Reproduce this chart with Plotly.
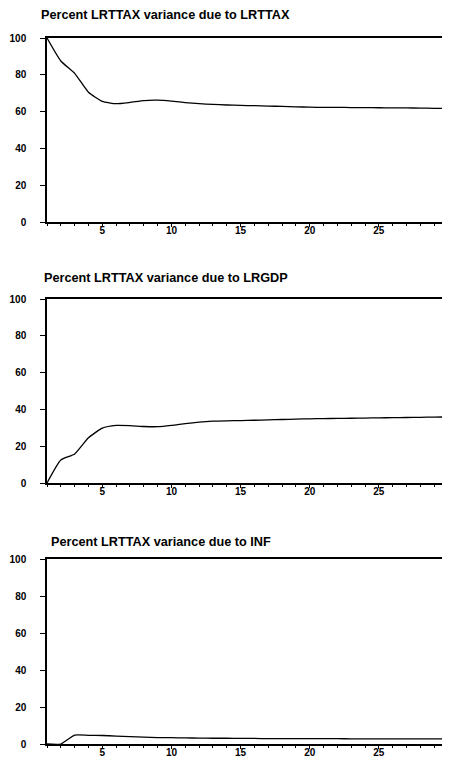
import plotly.graph_objects as go

periods = list(range(1, 31))

lrttax = [100.0, 87.5, 80.8, 70.5, 65.6, 64.3, 65.0, 66.0, 66.2, 65.7,
          64.9, 64.3, 63.9, 63.6, 63.4, 63.2, 63.0, 62.8, 62.6, 62.4,
          62.3, 62.3, 62.2, 62.2, 62.1, 62.0, 62.0, 61.9, 61.8, 61.8]
lrgdp = [0.0, 12.5, 15.8, 24.6, 29.8, 31.3, 31.2, 30.7, 30.6, 31.3,
         32.3, 33.1, 33.6, 33.8, 33.9, 34.1, 34.3, 34.5, 34.7, 34.9,
         35.0, 35.1, 35.2, 35.3, 35.4, 35.5, 35.6, 35.7, 35.8, 35.9]
inf = [0.0, 0.0, 4.8, 4.7, 4.6, 4.3, 4.0, 3.7, 3.5, 3.4,
       3.3, 3.2, 3.1, 3.1, 3.0, 3.0, 2.9, 2.9, 2.9, 2.9,
       2.9, 2.9, 2.8, 2.8, 2.8, 2.8, 2.8, 2.8, 2.8, 2.8]

titles = ["Percent LRTTAX variance due to LRTTAX",
          "Percent LRTTAX variance due to LRGDP",
          "Percent LRTTAX variance due to INF"]
series = [lrttax, lrgdp, inf]

y_ticks = [0, 20, 40, 60, 80, 100]

# page body has an 8px margin, so figure coords = screen coords - 8
OFF = 8
W, H = 450 - OFF, 759 - OFF
L = 47 - OFF
R = W - (448 - OFF)
T = 38 - OFF
B = H - (744 - OFF)
ph = H - T - B
panels_px = [(38 - OFF, 222 - OFF), (299 - OFF, 483 - OFF), (559 - OFF, 744 - OFF)]
title_px = [(39 - OFF, 15 - OFF), (42 - OFF, 278 - OFF), (49 - OFF, 542 - OFF)]

FONT = "Liberation Sans"

fig = go.Figure()
layout = dict(
    width=W, height=H,
    margin=dict(l=L, r=R, t=T, b=B, autoexpand=False),
    paper_bgcolor="white", plot_bgcolor="white",
    showlegend=False,
    font=dict(family=FONT, color="black", size=11),
)

annotations = []
for i, (vals, ttl) in enumerate(zip(series, titles)):
    n = i + 1
    xa = "x" if n == 1 else f"x{n}"
    ya = "y" if n == 1 else f"y{n}"
    fig.add_trace(go.Scatter(x=periods, y=vals, mode="lines",
                             line=dict(color="black", width=1.3,
                                       shape="spline", smoothing=0.5),
                             xaxis=xa, yaxis=ya, hoverinfo="skip"))
    top, bot = panels_px[i]
    dom = [1 - (bot - T) / ph, 1 - (top - T) / ph]
    xkey = "xaxis" if n == 1 else f"xaxis{n}"
    ykey = "yaxis" if n == 1 else f"yaxis{n}"
    layout[xkey] = dict(
        domain=[0, 1], anchor=ya, range=[1, 30], automargin=False,
        tick0=0, dtick=5, ticks="outside", ticklen=3, tickwidth=1,
        tickcolor="black",
        minor=dict(dtick=1, tick0=0, ticks="outside", ticklen=2,
                   tickcolor="black", tickwidth=1),
        showgrid=False, zeroline=False,
        showline=True, linecolor="black", linewidth=1.5, mirror=True,
        tickfont=dict(family=FONT, size=10, color="black", weight="bold"),
        ticklabelstandoff=-5,
        ticklabeloverflow="allow",
    )
    layout[ykey] = dict(
        domain=dom, anchor=xa, range=[0, 100], automargin=False,
        tickvals=y_ticks, ticktext=[str(v) for v in y_ticks],
        ticks="outside", ticklen=5, tickwidth=1, tickcolor="black",
        showgrid=False, zeroline=False,
        showline=True, linecolor="black", linewidth=1.5, mirror=True,
        tickfont=dict(family=FONT, size=10, color="black", weight="bold"),
        ticklabelstandoff=12,
    )
    tx, ty = title_px[i]
    annotations.append(dict(
        text=ttl, xref="paper", yref="paper",
        x=(tx - L) / (W - L - R), y=1 - (ty - T) / ph,
        xanchor="left", yanchor="middle", showarrow=False,
        font=dict(family=FONT, size=12.7, color="black", weight="bold"),
    ))

layout["annotations"] = annotations
fig.update_layout(**layout)
fig.write_html("out.html")
